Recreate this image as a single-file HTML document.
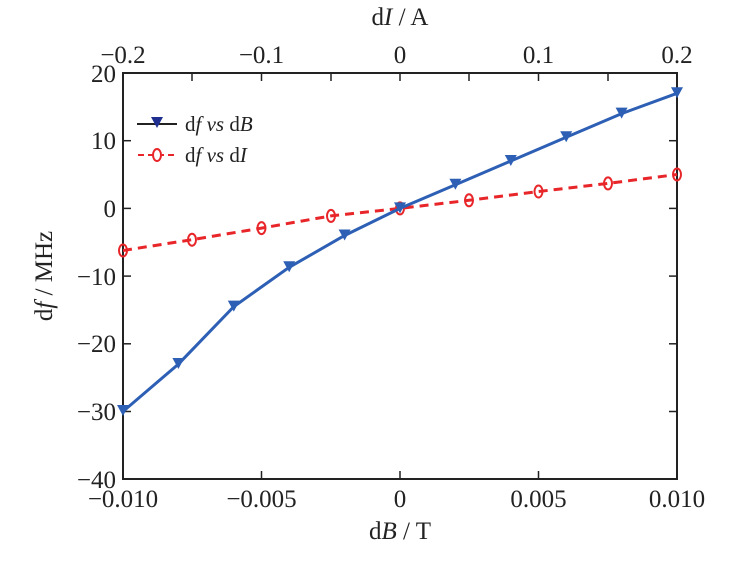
<!DOCTYPE html>
<html><head><style>body{margin:0;background:#fff}</style></head><body>
<svg width="730" height="556" xmlns="http://www.w3.org/2000/svg" font-family="Liberation Serif, serif" font-size="25" fill="#222">
<rect width="730" height="556" fill="#fff"/>
<rect x="123" y="73" width="554" height="406" fill="none" stroke="#222" stroke-width="2"/>
<g stroke="#222" stroke-width="1.5">
<line x1="261.5" y1="479" x2="261.5" y2="471"/><line x1="400" y1="479" x2="400" y2="471"/><line x1="538.5" y1="479" x2="538.5" y2="471"/>
<line x1="192" y1="73" x2="192" y2="81"/><line x1="261.5" y1="73" x2="261.5" y2="81"/><line x1="331" y1="73" x2="331" y2="81"/><line x1="400" y1="73" x2="400" y2="81"/><line x1="469" y1="73" x2="469" y2="81"/><line x1="538.5" y1="73" x2="538.5" y2="81"/><line x1="608" y1="73" x2="608" y2="81"/>
<line x1="123" y1="140.7" x2="131" y2="140.7"/><line x1="123" y1="208.4" x2="131" y2="208.4"/><line x1="123" y1="276.1" x2="131" y2="276.1"/><line x1="123" y1="343.8" x2="131" y2="343.8"/><line x1="123" y1="411.5" x2="131" y2="411.5"/>
<line x1="677" y1="140.7" x2="669" y2="140.7"/><line x1="677" y1="208.4" x2="669" y2="208.4"/><line x1="677" y1="276.1" x2="669" y2="276.1"/><line x1="677" y1="343.8" x2="669" y2="343.8"/><line x1="677" y1="411.5" x2="669" y2="411.5"/>
</g>
<g text-anchor="end">
<text x="116" y="82">20</text><text x="116" y="149">10</text><text x="116" y="217">0</text><text x="116" y="285">−10</text><text x="116" y="352">−20</text><text x="116" y="420">−30</text><text x="116" y="488">−40</text>
</g>
<g text-anchor="middle">
<text x="123" y="507">−0.010</text><text x="261.5" y="507">−0.005</text><text x="400" y="507">0</text><text x="538.5" y="507">0.005</text><text x="677" y="507">0.010</text>
<text x="123" y="63">−0.2</text><text x="261.5" y="63">−0.1</text><text x="400" y="63">0</text><text x="538.5" y="63">0.1</text><text x="677" y="63">0.2</text>
<text x="400" y="539">d<tspan font-style="italic">B</tspan> / T</text>
<text x="400" y="25">d<tspan font-style="italic">I</tspan> / A</text>
</g>
<text transform="translate(52,276) rotate(-90)" text-anchor="middle">d<tspan font-style="italic">f</tspan> / MHz</text>
<polyline fill="none" stroke="#e8262a" stroke-width="3" stroke-dasharray="9,6" points="123,250.5 192,239.7 261.5,228.1 331,215.9 400,208.4 469,200.3 538.5,191.5 608,183.4 677,174.5"/>
<g fill="none" stroke="#e8262a" stroke-width="2">
<ellipse cx="123" cy="250.5" rx="4" ry="6"/><ellipse cx="192" cy="239.7" rx="4" ry="6"/><ellipse cx="261.5" cy="228.1" rx="4" ry="6"/><ellipse cx="331" cy="215.9" rx="4" ry="6"/><ellipse cx="400" cy="208.4" rx="4" ry="6"/><ellipse cx="469" cy="200.3" rx="4" ry="6"/><ellipse cx="538.5" cy="191.5" rx="4" ry="6"/><ellipse cx="608" cy="183.4" rx="4" ry="6"/><ellipse cx="677" cy="174.5" rx="4" ry="6"/>
</g>
<polyline fill="none" stroke="#2d5fb5" stroke-width="3" points="123,411.5 178.4,364.1 233.8,306.6 289.2,267.3 344.6,235.5 400,208.4 455.4,184.7 510.8,161 566.2,137.3 621.6,113.6 677,93.3"/>
<g fill="#2d5fb5">
<path d="M117,405h12l-6,11z"/><path d="M172.4,358h12l-6,11z"/><path d="M227.8,300.6h12l-6,11z"/><path d="M283.2,261.3h12l-6,11z"/><path d="M338.6,229.5h12l-6,11z"/><path d="M394,202.4h12l-6,11z"/><path d="M449.4,178.7h12l-6,11z"/><path d="M504.8,155h12l-6,11z"/><path d="M560.2,131.3h12l-6,11z"/><path d="M615.6,107.6h12l-6,11z"/><path d="M671,87.3h12l-6,11z"/>
</g>
<line x1="137" y1="124" x2="177" y2="124" stroke="#222" stroke-width="2"/>
<path d="M151,117h12l-6,11z" fill="#1f2f8f"/>
<line x1="138" y1="155" x2="177" y2="155" stroke="#e8262a" stroke-width="2" stroke-dasharray="6,4"/>
<ellipse cx="157" cy="155" rx="4" ry="6" fill="#fff" stroke="#e8262a" stroke-width="2"/>
<g font-size="21">
<text x="185" y="131">d<tspan font-style="italic">f vs</tspan> d<tspan font-style="italic">B</tspan></text>
<text x="185" y="162">d<tspan font-style="italic">f vs</tspan> d<tspan font-style="italic">I</tspan></text>
</g>
</svg>
</body></html>
